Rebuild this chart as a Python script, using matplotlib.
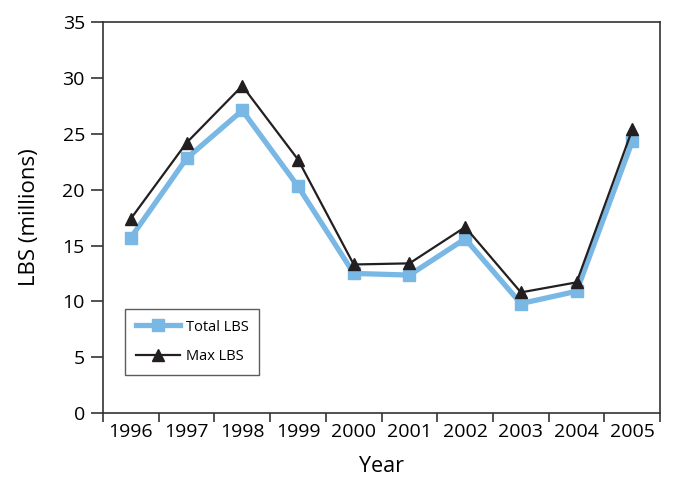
import matplotlib.pyplot as plt
import numpy as np

years = ["1996", "1997", "1998", "1999", "2000", "2001", "2002", "2003", "2004", "2005"]
total_lbs = [15.7, 22.8, 27.1, 20.3, 12.5, 12.35, 15.6, 9.8, 10.9, 24.35]
max_lbs = [17.4, 24.2, 29.3, 22.7, 13.3, 13.4, 16.65, 10.8, 11.7, 25.4]

plt.rcParams['font.family'] = ['Open Sans', 'DejaVu Sans']

fig = plt.figure(figsize=(6.73, 4.83), dpi=100)
ax = fig.add_axes([0.153, 0.145, 0.828, 0.809])

x = np.arange(len(years)) + 0.5
ax.plot(x, total_lbs, color="#79b7e5", linewidth=3.8, marker="s",
        markersize=9, label="Total LBS", zorder=2)
ax.plot(x, max_lbs, color="#231f20", linewidth=1.6, marker="^",
        markersize=8, label="Max LBS", zorder=3)

ax.set_xlim(0, len(years))
ax.set_ylim(0, 35)
ax.set_yticks(range(0, 36, 5))
ax.set_xticks(np.arange(len(years) + 1))
ax.set_xticklabels([])
ax.set_xticks(x, minor=True)
ax.set_xticklabels(years, minor=True)
ax.tick_params(axis="x", which="minor", length=0, pad=7, labelsize=14)
ax.tick_params(axis="x", which="major", length=6.5, width=1.2, color="#333333")
ax.tick_params(axis="y", length=9, width=1.2, color="#333333", labelsize=14, pad=4)

for s in ax.spines.values():
    s.set_color("#333333")
    s.set_linewidth(1.2)

ax.set_xlabel("Year", fontsize=15.5, labelpad=11)
ax.set_ylabel("LBS (millions)", fontsize=16, labelpad=16)

leg = ax.legend(loc="lower left", bbox_to_anchor=(0.04, 0.097), fancybox=False,
                edgecolor="#333333", fontsize=10.5, handlelength=3.0,
                handletextpad=0.4, borderpad=0.75, labelspacing=1.0,
                borderaxespad=0)
leg.get_frame().set_linewidth(1.0)

plt.savefig("out.png", dpi=100)
